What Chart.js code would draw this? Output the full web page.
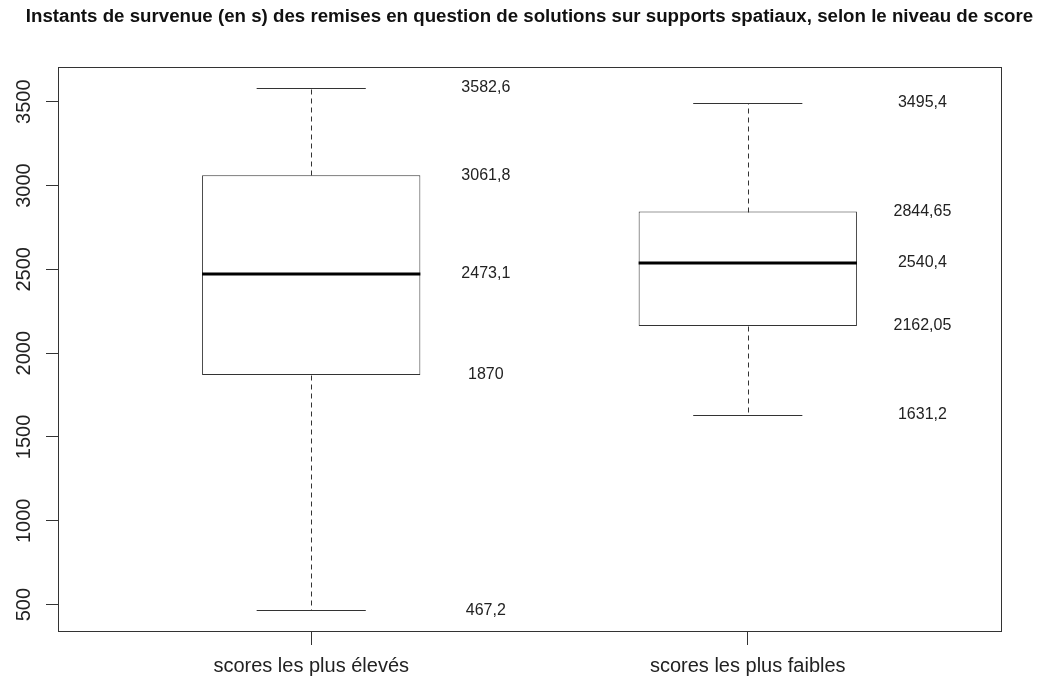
<!DOCTYPE html>
<html>
<head>
<meta charset="utf-8">
<script src="https://cdn.jsdelivr.net/npm/chart.js@4"></script>
<style>
  body { margin: 0; background: #fff; }
</style>
</head>
<body>
<canvas id="chart" width="1040" height="684"></canvas>
<script>
// data
const categories = ['scores les plus élevés', 'scores les plus faibles'];
const positions = [1, 2];
const whiskerLow = [467.2, 1631.2];
const q1 = [1870, 2162.05];
const median = [2473.1, 2540.4];
const q3 = [3061.8, 2844.65];
const whiskerHigh = [3582.6, 3495.4];
const yTicks = [500, 1000, 1500, 2000, 2500, 3000, 3500];

const title = 'Instants de survenue (en s) des remises en question de solutions sur supports spatiaux, selon le niveau de score';

// R style axis range: data range + 4%
const lo = Math.min(...whiskerLow), hi = Math.max(...whiskerHigh);
const pad = (hi - lo) * 0.04;

const fr = v => String(v).replace('.', ',');
const FONT = "'Liberation Sans', Arial, sans-serif";
const LINE = '#333';

const boxParts = {
  id: 'boxParts',
  afterDatasetsDraw(chart) {
    const { ctx, scales: { x, y } } = chart;
    ctx.save();
    positions.forEach((p, i) => {
      const cx = Math.round(x.getPixelForValue(p)) + 0.5;
      const capL = x.getPixelForValue(p - 0.125), capR = x.getPixelForValue(p + 0.125);
      const boxL = x.getPixelForValue(p - 0.25), boxR = x.getPixelForValue(p + 0.25);
      const py = v => Math.round(y.getPixelForValue(v)) + 0.5;

      ctx.strokeStyle = LINE;
      ctx.lineWidth = 1;
      // whiskers
      ctx.setLineDash([5, 4]);
      ctx.beginPath();
      ctx.moveTo(cx, py(q3[i])); ctx.lineTo(cx, py(whiskerHigh[i]));
      ctx.moveTo(cx, py(q1[i])); ctx.lineTo(cx, py(whiskerLow[i]));
      ctx.stroke();
      ctx.setLineDash([]);
      // caps
      ctx.beginPath();
      ctx.moveTo(capL, py(whiskerHigh[i])); ctx.lineTo(capR, py(whiskerHigh[i]));
      ctx.moveTo(capL, py(whiskerLow[i])); ctx.lineTo(capR, py(whiskerLow[i]));
      ctx.stroke();
      // median
      ctx.strokeStyle = '#000';
      ctx.lineWidth = 3;
      ctx.beginPath();
      ctx.moveTo(boxL, Math.round(y.getPixelForValue(median[i]))); ctx.lineTo(boxR, Math.round(y.getPixelForValue(median[i])));
      ctx.stroke();

      // value labels
      ctx.fillStyle = '#222';
      ctx.font = '16px ' + FONT;
      ctx.textAlign = 'center';
      ctx.textBaseline = 'middle';
      const lx = x.getPixelForValue(p + 0.4);
      [whiskerHigh[i], q3[i], median[i], q1[i], whiskerLow[i]].forEach(v => {
        ctx.fillText(fr(v), lx, y.getPixelForValue(v));
      });
    });
    // plot frame
    const a = chart.chartArea;
    ctx.strokeStyle = LINE;
    ctx.lineWidth = 1;
    ctx.strokeRect(Math.round(a.left) + 0.5, Math.round(a.top) + 0.5, Math.round(a.right - a.left), Math.round(a.bottom - a.top));

    // main title, centred over the plot region like R does
    ctx.fillStyle = '#111';
    ctx.font = 'bold 18.7px ' + FONT;
    ctx.textAlign = 'center';
    ctx.textBaseline = 'middle';
    ctx.fillText(title, (a.left + a.right) / 2, 17);
    ctx.restore();
  }
};

new Chart(document.getElementById('chart'), {
  type: 'bar',
  data: {
    datasets: [{
      data: positions.map((p, i) => ({ x: p, y: [q1[i], q3[i]] })),
      backgroundColor: '#fff',
      borderColor: LINE,
      borderWidth: 1,
      borderSkipped: false,
      barPercentage: 0.5,
      categoryPercentage: 1,
    }],
  },
  options: {
    responsive: false,
    devicePixelRatio: 1,
    animation: false,
    layout: { padding: { top: 67, right: 39, left: 0, bottom: 0 } },
    plugins: {
      legend: { display: false },
      tooltip: { enabled: false },
      title: { display: false },
    },
    scales: {
      x: {
        type: 'linear',
        min: 0.42,
        max: 2.58,
        offset: false,
        afterBuildTicks: s => { s.ticks = positions.map(v => ({ value: v })); },
        afterFit: s => { s.height = 53; },
        ticks: {
          callback: v => categories[positions.indexOf(v)],
          color: '#222',
          font: { family: FONT, size: 20 },
          padding: 9,
          maxRotation: 0,
        },
        grid: { offset: false, drawOnChartArea: false, drawTicks: true, tickLength: 14, tickColor: LINE },
        border: { display: false },
      },
      y: {
        min: lo - pad,
        max: hi + pad,
        afterBuildTicks: s => { s.ticks = yTicks.map(v => ({ value: v })); },
        afterFit: s => { s.width = 58; },
        ticks: {
          callback: v => String(v),
          color: '#222',
          font: { family: FONT, size: 20 },
          minRotation: 90,
          maxRotation: 90,
          crossAlign: 'center',
          padding: -1,
        },
        grid: { drawOnChartArea: false, drawTicks: true, tickLength: 12, tickColor: LINE },
        border: { display: false },
      },
    },
  },
  plugins: [boxParts],
});
</script>
</body>
</html>
